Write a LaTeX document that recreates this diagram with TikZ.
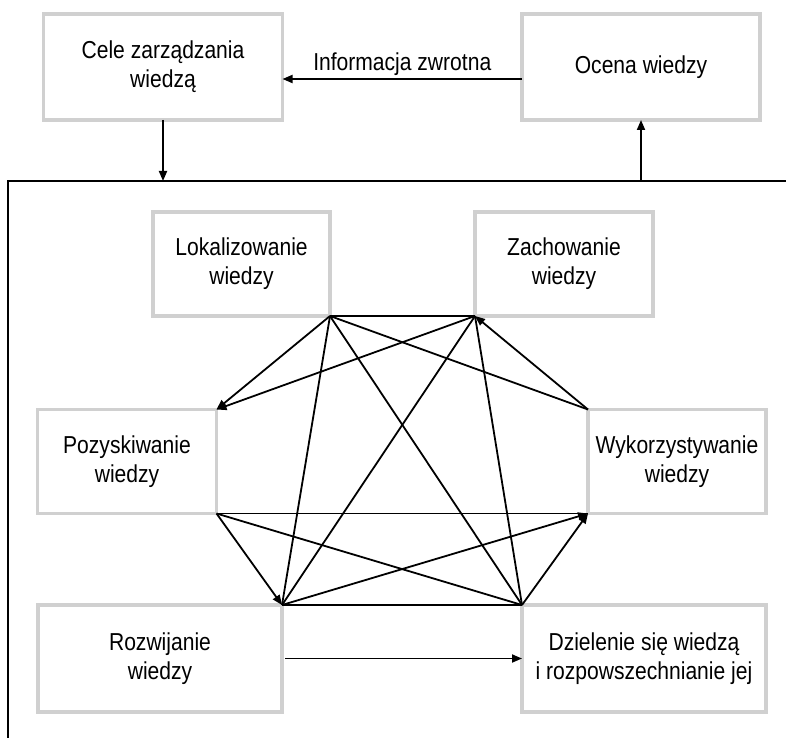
\documentclass[tikz,border=0pt]{standalone}
\usepackage{fontspec}
\setmainfont{Liberation Sans}[FakeStretch=0.86]
\usetikzlibrary{arrows.meta}
\definecolor{boxgray}{HTML}{D0D0D0}
\begin{document}
\begin{tikzpicture}[x=1pt,y=-1pt,
  box/.style={draw=boxgray,line width=3.5pt,fill=white,align=center,
    font=\fontsize{24.5}{29}\selectfont,inner sep=0pt,outer sep=0pt},
  conn/.style={line width=1.8pt,black},
  arr/.style={conn,-{Triangle[length=10pt,width=8pt]}}]
\useasboundingbox (0,0) rectangle (786,738);
% top boxes
\node[box,minimum width=239pt,minimum height=106pt] (C) at (163,67) {Cele zarządzania\\wiedzą};
\node[box,minimum width=238pt,minimum height=106pt] (O) at (641,67) {Ocena wiedzy};
% inner boxes
\node[box,minimum width=177pt,minimum height=104pt] (L) at (241.5,264) {Lokalizowanie\\wiedzy};
\node[box,minimum width=178pt,minimum height=104pt] (Z) at (564,264) {Zachowanie\\wiedzy};
\node[box,minimum width=179pt,minimum height=104pt] (P) at (127,461.5) {Pozyskiwanie\\wiedzy};
\node[box,minimum width=178pt,minimum height=104pt] (W) at (677,461.5) {Wykorzystywanie\\wiedzy};
\node[box,minimum width=244pt,minimum height=107pt] (R) at (160,658.5) {Rozwijanie\\wiedzy};
\node[box,minimum width=244pt,minimum height=107pt] (D) at (644,658.5) {Dzielenie się wiedzą\\i rozpowszechnianie jej};
% frame
\coordinate (ftl) at (8,181);
\coordinate (ftr) at (786,181);
\coordinate (fbl) at (8,738);
\draw[conn] (ftr) -- (ftl) -- (fbl);
% top arrows
\draw[arr] (C.south) -- (C.south |- ftl);
\draw[arr] (ftl -| O.south) -- (O.south);
\draw[arr] ([yshift=-12pt]O.west) -- node[above=2pt,font=\fontsize{24.5}{29}\selectfont,inner sep=1pt] {Informacja zwrotna} ([yshift=-12pt]C.east);
% network
\draw[conn] (L.south east) -- (Z.south west);
\draw[arr] (L.south east) -- (P.north east);
\draw[arr] (Z.south west) -- (P.north east);
\draw[conn] (L.south east) -- (R.north east);
\draw[conn] (L.south east) -- (D.north west);
\draw[conn] (L.south east) -- (W.north west);
\draw[conn] (Z.south west) -- (R.north east);
\draw[conn] (Z.south west) -- (D.north west);
\draw[arr] (W.north west) -- (Z.south west);
\draw[arr] (P.south east) -- (R.north east);
\draw[conn] (P.south east) -- (W.south west);
\draw[conn] (P.south east) -- (D.north west);
\draw[conn] (R.north east) -- (D.north west);
\draw[arr] (R.north east) -- (W.south west);
\draw[arr] (D.north west) -- (W.south west);
\draw[arr] ([xshift=3pt]R.east) -- (D.west);
\end{tikzpicture}
\end{document}
